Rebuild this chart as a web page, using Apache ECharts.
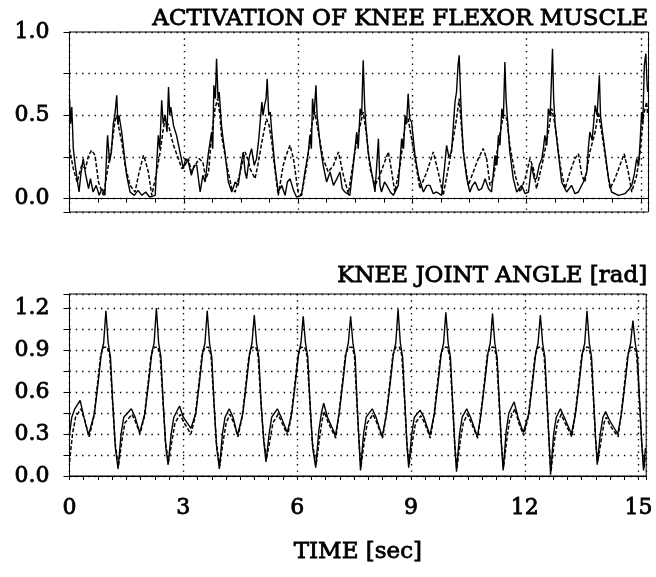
<!DOCTYPE html>
<html><head><meta charset="utf-8">
<script src="https://cdn.jsdelivr.net/npm/echarts@6/dist/echarts.min.js"></script>
<style>html,body{margin:0;padding:0;background:#fff}#c{width:656px;height:577px}</style>
</head><body><div id="c"></div>
<script>
// ---- data (time [sec], value) ----
const activationMeasured = [[0,0.6],[0.03,0.45],[0.06,0.55],[0.1,0.3],[0.15,0.2],[0.25,0.04],[0.3,0.15],[0.36,0.24],[0.42,0.15],[0.5,0.06],[0.55,0.12],[0.62,0.04],[0.7,0.08],[0.78,0.02],[0.85,0.06],[0.93,0.02],[0.98,0.3],[1.0,0.38],[1.05,0.22],[1.1,0.28],[1.15,0.45],[1.19,0.5],[1.24,0.62],[1.27,0.45],[1.3,0.5],[1.37,0.4],[1.44,0.26],[1.5,0.14],[1.59,0.04],[1.7,0.02],[1.8,0.05],[1.9,0.02],[2.0,0.04],[2.1,0.01],[2.25,0.02],[2.3,0.25],[2.33,0.38],[2.37,0.3],[2.42,0.59],[2.46,0.45],[2.51,0.5],[2.56,0.4],[2.6,0.67],[2.63,0.5],[2.66,0.55],[2.73,0.44],[2.81,0.38],[2.9,0.28],[2.99,0.18],[3.05,0.24],[3.12,0.22],[3.2,0.14],[3.27,0.2],[3.34,0.2],[3.43,0.04],[3.5,0.14],[3.56,0.1],[3.65,0.28],[3.73,0.4],[3.76,0.3],[3.79,0.68],[3.83,0.6],[3.86,0.84],[3.9,0.6],[3.93,0.64],[3.99,0.44],[4.03,0.36],[4.08,0.28],[4.17,0.1],[4.26,0.04],[4.35,0.1],[4.43,0.08],[4.5,0.2],[4.56,0.28],[4.61,0.16],[4.65,0.12],[4.72,0.25],[4.78,0.3],[4.85,0.2],[4.91,0.24],[4.97,0.36],[5.02,0.5],[5.05,0.58],[5.08,0.5],[5.12,0.56],[5.16,0.6],[5.19,0.72],[5.23,0.5],[5.27,0.52],[5.31,0.4],[5.39,0.2],[5.48,0.04],[5.57,0.08],[5.66,0.02],[5.72,0.1],[5.79,0.12],[5.88,0.05],[5.96,0.01],[6.09,0.02],[6.18,0.16],[6.27,0.28],[6.31,0.38],[6.35,0.3],[6.38,0.6],[6.42,0.5],[6.47,0.68],[6.5,0.5],[6.53,0.44],[6.58,0.32],[6.66,0.2],[6.75,0.1],[6.84,0.16],[6.93,0.08],[7.02,0.12],[7.1,0.16],[7.16,0.06],[7.23,0.04],[7.36,0.02],[7.45,0.2],[7.54,0.4],[7.58,0.3],[7.63,0.54],[7.67,0.5],[7.71,0.83],[7.75,0.55],[7.78,0.44],[7.84,0.28],[7.93,0.16],[8.02,0.04],[8.11,0.36],[8.15,0.08],[8.19,0.04],[8.27,0.1],[8.33,0.08],[8.42,0.04],[8.5,0.02],[8.63,0.08],[8.72,0.36],[8.77,0.3],[8.81,0.5],[8.85,0.45],[8.89,0.63],[8.93,0.48],[8.98,0.46],[9.07,0.26],[9.16,0.14],[9.29,0.04],[9.38,0.08],[9.46,0.08],[9.55,0.03],[9.64,0.04],[9.77,0.02],[9.85,0.2],[9.9,0.32],[9.96,0.25],[10.03,0.28],[10.08,0.45],[10.12,0.58],[10.16,0.64],[10.2,0.8],[10.23,0.86],[10.27,0.6],[10.3,0.44],[10.34,0.28],[10.43,0.12],[10.51,0.04],[10.58,0.08],[10.65,0.1],[10.74,0.05],[10.82,0.06],[10.91,0.12],[11.0,0.06],[11.08,0.04],[11.17,0.26],[11.22,0.2],[11.26,0.38],[11.3,0.32],[11.35,0.54],[11.39,0.48],[11.43,0.82],[11.46,0.6],[11.49,0.5],[11.56,0.28],[11.65,0.12],[11.74,0.04],[11.87,0.08],[11.96,0.03],[12.05,0.04],[12.13,0.2],[12.2,0.12],[12.26,0.12],[12.33,0.2],[12.4,0.24],[12.44,0.3],[12.48,0.38],[12.53,0.32],[12.57,0.54],[12.62,0.5],[12.68,0.9],[12.71,0.6],[12.75,0.44],[12.83,0.28],[12.92,0.1],[13.05,0.04],[13.18,0.08],[13.27,0.03],[13.36,0.04],[13.49,0.1],[13.58,0.16],[13.62,0.3],[13.66,0.4],[13.72,0.35],[13.8,0.56],[13.85,0.5],[13.91,0.74],[13.94,0.5],[13.97,0.44],[14.06,0.28],[14.15,0.12],[14.23,0.04],[14.41,0.02],[14.58,0.03],[14.7,0.06],[14.76,0.08],[14.83,0.15],[14.89,0.24],[14.94,0.2],[14.98,0.34],[15.02,0.52],[15.05,0.45],[15.09,0.8],[15.13,0.87],[15.16,0.7],[15.18,0.64]];

const activationModel = [[0,0.3],[0.1,0.18],[0.2,0.1],[0.32,0.2],[0.42,0.18],[0.5,0.26],[0.58,0.29],[0.67,0.26],[0.76,0.1],[0.89,0.02],[1.02,0.2],[1.1,0.3],[1.19,0.46],[1.24,0.5],[1.3,0.42],[1.37,0.34],[1.46,0.2],[1.59,0.08],[1.72,0.04],[1.82,0.15],[1.94,0.26],[2.0,0.22],[2.07,0.16],[2.16,0.02],[2.28,0.15],[2.38,0.28],[2.45,0.4],[2.51,0.48],[2.6,0.44],[2.73,0.32],[2.86,0.24],[2.95,0.18],[3.03,0.2],[3.12,0.24],[3.2,0.16],[3.3,0.2],[3.4,0.24],[3.5,0.22],[3.58,0.12],[3.65,0.16],[3.73,0.38],[3.82,0.54],[3.89,0.6],[3.95,0.5],[3.99,0.38],[4.13,0.2],[4.26,0.06],[4.35,0.04],[4.48,0.16],[4.61,0.28],[4.68,0.24],[4.74,0.18],[4.87,0.12],[4.96,0.22],[5.05,0.34],[5.17,0.48],[5.24,0.44],[5.31,0.34],[5.39,0.18],[5.48,0.02],[5.61,0.2],[5.72,0.28],[5.79,0.32],[5.88,0.24],[6.0,0.04],[6.09,0.02],[6.23,0.2],[6.36,0.44],[6.44,0.52],[6.53,0.4],[6.66,0.24],[6.79,0.16],[6.93,0.2],[7.06,0.28],[7.19,0.14],[7.32,0.03],[7.49,0.28],[7.63,0.44],[7.71,0.52],[7.8,0.38],[7.89,0.18],[8.02,0.08],[8.15,0.14],[8.24,0.2],[8.37,0.28],[8.46,0.16],[8.54,0.04],[8.68,0.2],[8.81,0.44],[8.89,0.48],[8.98,0.36],[9.11,0.18],[9.2,0.06],[9.38,0.16],[9.55,0.28],[9.68,0.16],[9.81,0.02],[9.99,0.24],[10.16,0.48],[10.23,0.6],[10.34,0.28],[10.47,0.08],[10.6,0.16],[10.73,0.24],[10.86,0.3],[10.95,0.24],[11.04,0.08],[11.13,0.12],[11.26,0.34],[11.39,0.5],[11.48,0.48],[11.56,0.32],[11.7,0.14],[11.83,0.04],[11.96,0.12],[12.09,0.24],[12.18,0.18],[12.26,0.06],[12.44,0.24],[12.57,0.4],[12.66,0.54],[12.75,0.44],[12.88,0.2],[13.01,0.06],[13.14,0.16],[13.27,0.24],[13.36,0.27],[13.45,0.14],[13.53,0.1],[13.66,0.28],[13.8,0.4],[13.88,0.52],[13.97,0.4],[14.1,0.2],[14.19,0.06],[14.32,0.12],[14.45,0.2],[14.56,0.27],[14.67,0.16],[14.76,0.04],[14.89,0.14],[14.98,0.28],[15.07,0.5],[15.15,0.58],[15.18,0.5]];

const angleMeasured = [[0,0.3],[0.06,0.42],[0.14,0.48],[0.28,0.54],[0.38,0.42],[0.5,0.29],[0.66,0.45],[0.76,0.68],[0.84,0.88],[0.9,0.95],[0.96,1.18],[1.02,0.95],[1.08,0.85],[1.14,0.52],[1.21,0.2],[1.28,0.05],[1.36,0.3],[1.43,0.42],[1.63,0.48],[1.73,0.42],[1.85,0.31],[1.99,0.45],[2.09,0.68],[2.17,0.88],[2.23,0.95],[2.29,1.2],[2.35,0.95],[2.41,0.85],[2.47,0.52],[2.54,0.2],[2.6,0.08],[2.68,0.3],[2.75,0.42],[2.9,0.5],[3.0,0.42],[3.2,0.34],[3.33,0.45],[3.43,0.68],[3.51,0.88],[3.57,0.95],[3.63,1.18],[3.69,0.95],[3.75,0.85],[3.81,0.52],[3.88,0.2],[3.95,0.05],[4.03,0.3],[4.1,0.42],[4.21,0.48],[4.31,0.42],[4.43,0.29],[4.57,0.45],[4.67,0.68],[4.75,0.88],[4.81,0.95],[4.87,1.15],[4.93,0.95],[4.99,0.85],[5.05,0.52],[5.12,0.25],[5.18,0.1],[5.26,0.3],[5.33,0.42],[5.48,0.48],[5.58,0.42],[5.74,0.31],[5.86,0.45],[5.96,0.68],[6.04,0.88],[6.1,0.95],[6.16,1.14],[6.22,0.95],[6.28,0.85],[6.34,0.52],[6.41,0.2],[6.49,0.06],[6.57,0.32],[6.64,0.45],[6.7,0.52],[6.8,0.42],[7.01,0.29],[7.11,0.45],[7.21,0.68],[7.29,0.88],[7.35,0.95],[7.41,1.14],[7.47,0.95],[7.53,0.85],[7.58,0.52],[7.62,0.3],[7.67,0.04],[7.75,0.3],[7.82,0.42],[7.98,0.48],[8.08,0.42],[8.24,0.28],[8.36,0.45],[8.46,0.68],[8.54,0.88],[8.6,0.95],[8.66,1.19],[8.72,0.95],[8.78,0.85],[8.84,0.52],[8.9,0.2],[8.94,0.06],[9.02,0.3],[9.09,0.42],[9.24,0.47],[9.34,0.42],[9.5,0.29],[9.62,0.45],[9.72,0.68],[9.8,0.88],[9.86,0.95],[9.92,1.17],[9.98,0.95],[10.04,0.85],[10.1,0.52],[10.16,0.2],[10.2,0.03],[10.28,0.3],[10.35,0.42],[10.47,0.48],[10.57,0.42],[10.75,0.28],[10.85,0.45],[10.95,0.68],[11.03,0.88],[11.09,0.95],[11.15,1.16],[11.21,0.95],[11.27,0.85],[11.33,0.52],[11.39,0.2],[11.43,0.04],[11.51,0.32],[11.58,0.45],[11.72,0.53],[11.82,0.42],[11.96,0.31],[12.11,0.45],[12.21,0.68],[12.29,0.88],[12.35,0.95],[12.41,1.15],[12.47,0.95],[12.53,0.85],[12.59,0.52],[12.65,0.2],[12.68,0.01],[12.76,0.3],[12.83,0.42],[12.94,0.48],[13.04,0.42],[13.23,0.3],[13.34,0.45],[13.44,0.68],[13.52,0.88],[13.58,0.95],[13.64,1.18],[13.7,0.95],[13.76,0.85],[13.82,0.52],[13.87,0.25],[13.91,0.08],[13.99,0.3],[14.06,0.42],[14.13,0.46],[14.23,0.4],[14.45,0.3],[14.55,0.45],[14.65,0.68],[14.73,0.88],[14.79,0.95],[14.85,1.11],[14.91,0.95],[14.97,0.85],[15.03,0.52],[15.09,0.2],[15.13,0.04],[15.18,0.2]];

const angleModel = [[0,0.1],[0.08,0.3],[0.16,0.42],[0.3,0.48],[0.4,0.4],[0.52,0.28],[0.64,0.42],[0.74,0.66],[0.82,0.86],[0.9,0.92],[1.0,0.92],[1.06,0.86],[1.13,0.55],[1.2,0.24],[1.29,0.07],[1.38,0.25],[1.46,0.38],[1.65,0.44],[1.75,0.38],[1.86,0.3],[1.97,0.42],[2.07,0.66],[2.15,0.86],[2.23,0.92],[2.33,0.92],[2.39,0.86],[2.46,0.55],[2.53,0.24],[2.61,0.1],[2.7,0.25],[2.78,0.38],[2.92,0.44],[3.02,0.38],[3.2,0.3],[3.31,0.42],[3.41,0.66],[3.49,0.86],[3.57,0.92],[3.67,0.92],[3.73,0.86],[3.8,0.55],[3.87,0.24],[3.96,0.07],[4.05,0.25],[4.13,0.38],[4.23,0.44],[4.33,0.38],[4.44,0.28],[4.55,0.42],[4.65,0.66],[4.73,0.86],[4.81,0.92],[4.91,0.92],[4.97,0.86],[5.04,0.55],[5.11,0.28],[5.19,0.12],[5.28,0.25],[5.36,0.38],[5.5,0.44],[5.6,0.38],[5.75,0.29],[5.84,0.42],[5.94,0.66],[6.02,0.86],[6.1,0.92],[6.2,0.92],[6.26,0.86],[6.33,0.55],[6.4,0.24],[6.5,0.08],[6.59,0.27],[6.66,0.4],[6.72,0.46],[6.82,0.38],[7.02,0.27],[7.09,0.42],[7.19,0.66],[7.27,0.86],[7.35,0.92],[7.45,0.92],[7.51,0.86],[7.57,0.55],[7.62,0.3],[7.68,0.06],[7.77,0.25],[7.85,0.38],[8.0,0.44],[8.1,0.38],[8.25,0.27],[8.34,0.42],[8.44,0.66],[8.52,0.86],[8.6,0.92],[8.7,0.92],[8.76,0.86],[8.83,0.55],[8.89,0.24],[8.95,0.08],[9.04,0.25],[9.12,0.38],[9.26,0.43],[9.36,0.38],[9.51,0.27],[9.6,0.42],[9.7,0.66],[9.78,0.86],[9.86,0.92],[9.96,0.92],[10.02,0.86],[10.09,0.55],[10.15,0.24],[10.21,0.05],[10.3,0.25],[10.38,0.38],[10.49,0.44],[10.59,0.38],[10.76,0.27],[10.83,0.42],[10.93,0.66],[11.01,0.86],[11.09,0.92],[11.19,0.92],[11.25,0.86],[11.32,0.55],[11.38,0.24],[11.44,0.06],[11.53,0.27],[11.6,0.4],[11.74,0.48],[11.84,0.38],[11.97,0.29],[12.09,0.42],[12.19,0.66],[12.27,0.86],[12.35,0.92],[12.45,0.92],[12.51,0.86],[12.58,0.55],[12.64,0.24],[12.69,0.03],[12.78,0.25],[12.86,0.38],[12.96,0.44],[13.06,0.38],[13.24,0.28],[13.32,0.42],[13.42,0.66],[13.5,0.86],[13.58,0.92],[13.68,0.92],[13.74,0.86],[13.81,0.55],[13.86,0.28],[13.92,0.1],[14.01,0.25],[14.09,0.38],[14.15,0.42],[14.25,0.36],[14.46,0.28],[14.53,0.42],[14.63,0.66],[14.71,0.86],[14.79,0.92],[14.89,0.92],[14.95,0.86],[15.02,0.55],[15.08,0.24],[15.14,0.06],[15.18,0.15]];

const activationTickLabels = ['0.0', '0.5', '1.0'];
const angleTickLabels = ['0.0', '0.3', '0.6', '0.9', '1.2'];
const timeTickLabels = ['0', '3', '6', '9', '12', '15'];
const topTitle = 'ACTIVATION OF KNEE FLEXOR MUSCLE';
const bottomTitle = 'KNEE JOINT ANGLE [rad]';
const timeTitle = 'TIME [sec]';

// ---- chart ----
const FONT = 'DejaVu Serif';
const txt = { color: '#000', fontFamily: FONT, fontSize: 22, fontWeight: 'normal', textBorderColor: '#000', textBorderWidth: 0.8 };
const titleTxt = Object.assign({}, txt, { fontSize: 23 });
const dotted = { color: '#000', width: 1.4, type: [1.4, 4.9] };
function pick(list) {
  return function (v) {
    const m = list.find(s => Math.abs(parseFloat(s) - v) < 1e-6);
    return m === undefined ? '' : m;
  };
}
const axisLine = { show: true, lineStyle: { color: '#000', width: 1 } };

function timeAxis(gridIndex, step, labels) {
  return {
    type: 'value', gridIndex, min: 0, max: 15.2, interval: step,
    axisLine, splitLine: { show: false },
    axisTick: { show: true, length: 4, lineStyle: { color: '#000' } },
    axisLabel: labels ? Object.assign({ show: true, margin: 21, formatter: pick(labels) }, txt) : { show: false }
  };
}
function gridAxis(gridIndex) {
  return {
    type: 'value', gridIndex, min: 0, max: 15.2, interval: 3, position: 'top',
    axisLine: { show: false }, axisTick: { show: false }, axisLabel: { show: false },
    splitLine: { show: true, lineStyle: dotted }
  };
}
const timeAxes = [timeAxis(0, 0.75, null), gridAxis(0), timeAxis(1, 0.375, timeTickLabels), gridAxis(1)];
timeAxes[2].name = timeTitle;
timeAxes[2].nameLocation = 'middle';
timeAxes[2].nameGap = 65;
timeAxes[2].nameTextStyle = Object.assign({}, titleTxt);

function lineSeries(data, x, y, color, width, type, z) {
  return {
    type: 'line', data, xAxisIndex: x, yAxisIndex: y, showSymbol: false, symbol: 'none',
    lineStyle: { color, width, type }, z, animation: false, silent: true
  };
}

const option = {
  backgroundColor: '#fff',
  animation: false,
  title: [
    { text: topTitle, right: 7, top: 8, padding: 0, textStyle: titleTxt },
    { text: bottomTitle, right: 8, top: 265, padding: 0, textStyle: titleTxt }
  ],
  grid: [
    { left: 69.5, right: 7.5, top: 32, height: 180, show: true, borderColor: '#000', borderWidth: 1, backgroundColor: 'transparent' },
    { left: 69.5, right: 7.5, top: 294, height: 182, show: true, borderColor: '#000', borderWidth: 1, backgroundColor: 'transparent' }
  ],
  xAxis: timeAxes,
  yAxis: [
    {
      type: 'value', gridIndex: 0, min: -0.08, max: 1.0, minInterval: 0.25, maxInterval: 0.25, splitNumber: 4,
      axisLine, axisTick: { show: true, length: 6, lineStyle: { color: '#000' } },
      splitLine: { show: true, lineStyle: dotted },
      axisLabel: Object.assign({ margin: 20, formatter: pick(activationTickLabels) }, txt)
    },
    {
      type: 'value', gridIndex: 1, min: 0, max: 1.3, interval: 0.15,
      axisLine, axisTick: { show: true, length: 6, lineStyle: { color: '#000' } },
      splitLine: { show: true, lineStyle: dotted },
      axisLabel: Object.assign({ margin: 20, formatter: pick(angleTickLabels) }, txt)
    }
  ],
  series: [
    lineSeries(activationModel, 0, 0, '#000', 1.5, [4, 2], 2),
    lineSeries(activationMeasured, 0, 0, '#000', 1.4, 'solid', 3),
    lineSeries(angleModel, 2, 1, '#000', 1.5, [4, 2], 2),
    lineSeries(angleMeasured, 2, 1, '#000', 1.4, 'solid', 3)
  ]
};
const chart = echarts.init(document.getElementById('c'), null, { renderer: 'canvas' });
chart.setOption(option);
</script>
</body></html>
